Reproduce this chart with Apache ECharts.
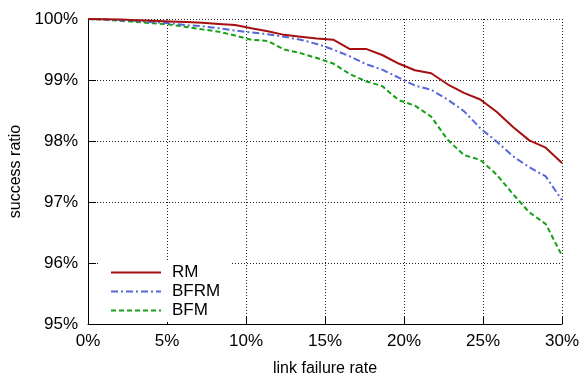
<!DOCTYPE html>
<html>
<head>
<meta charset="utf-8">
<script src="https://cdn.jsdelivr.net/npm/echarts@6/dist/echarts.min.js"></script>
<style>
  html, body { margin: 0; padding: 0; background: #fff; }
  #chart { width: 582px; height: 375px; }
</style>
</head>
<body>
<div id="chart"></div>
<script>
// link failure rate (%), sampled points
const failureRate = [0, 1.03, 2.07, 3.1, 4.14, 5.17, 6.21, 7.24, 8.28, 9.31, 10.34, 11.38, 12.41, 13.45, 14.48,
  15.52, 16.55, 17.59, 18.62, 19.66, 20.69, 21.72, 22.76, 23.79, 24.83, 25.86, 26.9, 27.93, 28.97, 30];

// success ratio (%)
const rm = [100, 99.995, 99.99, 99.98, 99.97, 99.96, 99.95, 99.94, 99.92, 99.9, 99.85, 99.8, 99.74, 99.71, 99.68,
  99.66, 99.51, 99.51, 99.41, 99.27, 99.16, 99.11, 98.93, 98.79, 98.68, 98.48, 98.23, 98.01, 97.89, 97.64];
const bfrm = [100, 99.99, 99.98, 99.97, 99.95, 99.93, 99.9, 99.88, 99.85, 99.81, 99.78, 99.75, 99.71, 99.66, 99.59,
  99.5, 99.39, 99.26, 99.17, 99.04, 98.91, 98.84, 98.68, 98.49, 98.21, 97.99, 97.75, 97.57, 97.42, 97.03];
const bfm = [100, 99.99, 99.97, 99.95, 99.93, 99.91, 99.87, 99.83, 99.79, 99.73, 99.66, 99.64, 99.5, 99.44, 99.36,
  99.27, 99.1, 98.98, 98.9, 98.67, 98.58, 98.4, 98.02, 97.77, 97.69, 97.45, 97.13, 96.83, 96.64, 96.12];

const seriesNames = ["RM", "BFRM", "BFM"];
const seriesColors = ["#a50f0f", "#5667d8", "#16a016"];

const font = "'Liberation Sans', Arial, Helvetica, sans-serif";

const pairs = (ys) => failureRate.map((x, i) => [x, ys[i]]);

const chart = echarts.init(document.getElementById("chart"));

const gridLine = {
  show: true,
  lineStyle: { color: "#222", width: 1, type: [1, 2] },
};

chart.setOption({
  animation: false,
  textStyle: { fontFamily: font },
  grid: { left: 88, right: 20, top: 19, bottom: 51, containLabel: false, outerBoundsMode: "none" },
  legend: {
    orient: "vertical",
    left: 100,
    top: 262,
    padding: [2, 10, 3, 10],
    backgroundColor: "#fff",
    itemWidth: 50,
    itemHeight: 14,
    itemGap: 2,
    data: seriesNames,
    itemStyle: { opacity: 0 },
    textStyle: { fontFamily: font, fontSize: 17, color: "#000", padding: [0, 0, 0, 6] },
  },
  xAxis: {
    type: "value",
    min: 0,
    max: 30,
    interval: 5,
    name: "link failure rate",
    nameLocation: "middle",
    nameGap: 37,
    nameTextStyle: { fontFamily: font, fontSize: 16, color: "#000" },
    axisLine: { show: true, lineStyle: { color: "#000", width: 1 } },
    axisTick: { show: true, inside: true, length: 7, lineStyle: { color: "#000" } },
    axisLabel: { formatter: "{value}%", fontFamily: font, fontSize: 17, color: "#000", margin: 9 },
    splitLine: gridLine,
  },
  yAxis: {
    type: "value",
    min: 95,
    max: 100,
    interval: 1,
    name: "success ratio",
    nameLocation: "middle",
    nameGap: 59,
    nameTextStyle: { fontFamily: font, fontSize: 16, color: "#000" },
    axisLine: { show: true, lineStyle: { color: "#000", width: 1 } },
    axisTick: { show: true, inside: true, length: 8, lineStyle: { color: "#000" } },
    axisLabel: { formatter: "{value}%", fontFamily: font, fontSize: 17, color: "#000", margin: 10 },
    splitLine: gridLine,
  },
  series: [
    {
      name: seriesNames[0],
      type: "line",
      data: pairs(rm),
      showSymbol: false,
      symbol: "none",
      color: seriesColors[0],
      lineStyle: { width: 2, color: seriesColors[0], type: "solid" },
      z: 5,
    },
    {
      name: seriesNames[1],
      type: "line",
      data: pairs(bfrm),
      showSymbol: false,
      symbol: "none",
      color: seriesColors[1],
      lineStyle: { width: 2, color: seriesColors[1], type: [7, 3, 2, 3] },
      z: 4,
    },
    {
      name: seriesNames[2],
      type: "line",
      data: pairs(bfm),
      showSymbol: false,
      symbol: "none",
      color: seriesColors[2],
      lineStyle: { width: 2, color: seriesColors[2], type: [5, 3] },
      z: 3,
    },
  ],
});
</script>
</body>
</html>
